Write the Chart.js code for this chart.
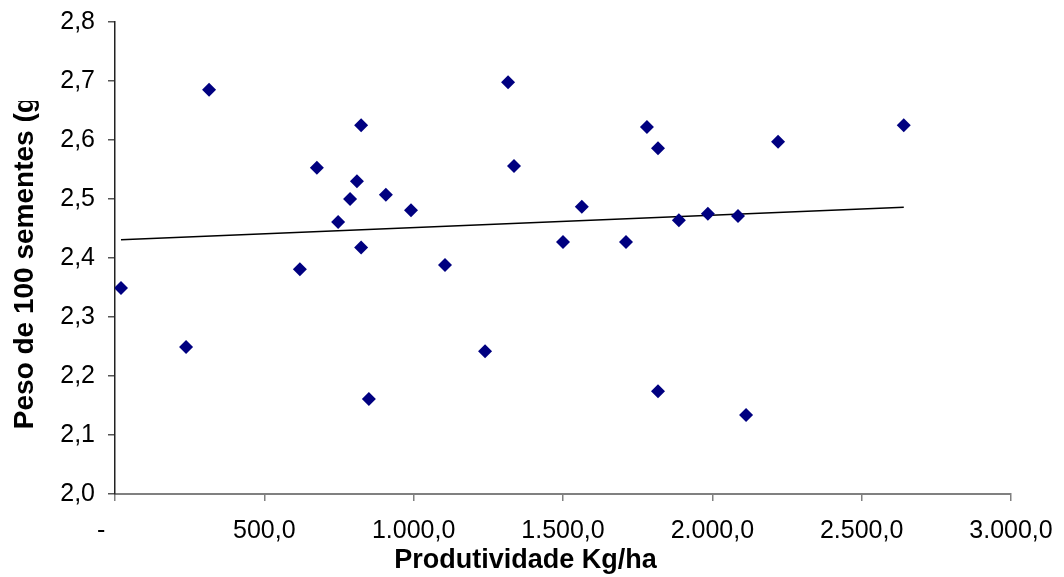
<!DOCTYPE html>
<html>
<head>
<meta charset="utf-8">
<script src="https://cdn.jsdelivr.net/npm/chart.js@4/dist/chart.umd.min.js"></script>
<style>
  html, body { margin: 0; padding: 0; background: #fff; }
  #wrap { width: 1064px; height: 577px; }
</style>
</head>
<body>
<div id="wrap"><canvas id="chart"></canvas></div>
<script>
// Produtividade (Kg/ha) vs peso de 100 sementes (g)
const prodX = [20, 238, 315, 619, 676, 747, 787, 810, 824, 824, 850, 907, 991, 1105, 1239,
  1316, 1336, 1500, 1563, 1711, 1781, 1818, 1818, 1888, 1985, 2086, 2113, 2220, 2641];
const pesoY = [2.349, 2.249, 2.685, 2.381, 2.553, 2.461, 2.500, 2.530, 2.625, 2.418, 2.161, 2.507, 2.481, 2.388, 2.242,
  2.698, 2.556, 2.427, 2.487, 2.427, 2.622, 2.586, 2.174, 2.464, 2.475, 2.471, 2.134, 2.597, 2.625];

// linear trend line, endpoints as drawn
const trendX = [20, 2641];
const trendY = [2.431, 2.486];

const xTickLabels = ['-    ', '500,0', '1.000,0', '1.500,0', '2.000,0', '2.500,0', '3.000,0'];
const yTickLabels = ['2,0', '2,1', '2,2', '2,3', '2,4', '2,5', '2,6', '2,7', '2,8'];

const FONT = "'Liberation Sans', Arial, sans-serif";

// the y axis title is cut off at the top in the original
const clipTitle = {
  id: 'clipTitle',
  afterDraw(chart) {
    const ctx = chart.ctx;
    ctx.save();
    ctx.fillStyle = '#fff';
    ctx.fillRect(0, 0, 48, 101);
    ctx.restore();
  }
};

function fixSize(prop, value) {
  return scale => {
    scale[prop] = value;
    scale.paddingTop = 0;
    scale.paddingBottom = 0;
    scale.paddingLeft = 0;
    scale.paddingRight = 0;
  };
}

const ctx = document.getElementById('chart').getContext('2d');

new Chart(ctx, {
  type: 'scatter',
  data: {
    datasets: [
      {
        label: 'Peso',
        data: prodX.map((x, i) => ({ x, y: pesoY[i] })),
        pointStyle: 'rectRot',
        pointRadius: 7,
        borderWidth: 0,
        backgroundColor: '#000080',
        borderColor: '#000080'
      },
      {
        label: 'Linear',
        type: 'line',
        data: trendX.map((x, i) => ({ x, y: trendY[i] })),
        borderColor: '#000',
        borderWidth: 1.5,
        pointRadius: 0,
        fill: false
      }
    ]
  },
  options: {
    responsive: true,
    maintainAspectRatio: false,
    animation: false,
    layout: { padding: { left: 0, top: 22, right: 53, bottom: 0 } },
    plugins: {
      legend: { display: false },
      tooltip: { enabled: false }
    },
    scales: {
      x: {
        type: 'linear',
        min: 0,
        max: 3000,
        afterFit: fixSize('height', 83),
        afterBuildTicks(scale) {
          scale.ticks = xTickLabels.map((_, i) => ({ value: i * 500 }));
        },
        grid: {
          drawOnChartArea: false,
          drawTicks: true,
          tickLength: 7,
          tickColor: '#808080',
          lineWidth: 1.5
        },
        border: { display: true, color: '#808080', width: 2 },
        ticks: {
          padding: 15,
          color: '#000',
          font: { family: FONT, size: 25 },
          maxRotation: 0,
          autoSkip: false,
          callback: (v, i) => xTickLabels[i]
        },
        title: {
          display: true,
          // trailing spaces push the title left of the axis centre, as in the original
          text: 'Produtividade Kg/ha          ',
          color: '#000',
          font: { family: FONT, size: 27, weight: 'bold' },
          padding: { top: -2, bottom: 0 }
        }
      },
      y: {
        type: 'linear',
        min: 2.0,
        max: 2.8,
        afterFit: fixSize('width', 115),
        afterBuildTicks(scale) {
          scale.ticks = yTickLabels.map((_, i) => ({ value: 2.0 + i * 0.1 }));
        },
        grid: {
          drawOnChartArea: false,
          drawTicks: true,
          tickLength: 7,
          tickColor: '#555',
          lineWidth: 1.5
        },
        border: { display: true, color: '#222', width: 1.5 },
        ticks: {
          padding: 13,
          color: '#000',
          font: { family: FONT, size: 25 },
          autoSkip: false,
          callback: (v, i) => yTickLabels[i]
        },
        title: {
          display: true,
          text: 'Peso de 100 sementes (g)',
          color: '#000',
          font: { family: FONT, size: 28, weight: 'bold' },
          padding: { top: 8, bottom: 0 }
        }
      }
    }
  },
  plugins: [clipTitle]
});
</script>
</body>
</html>
